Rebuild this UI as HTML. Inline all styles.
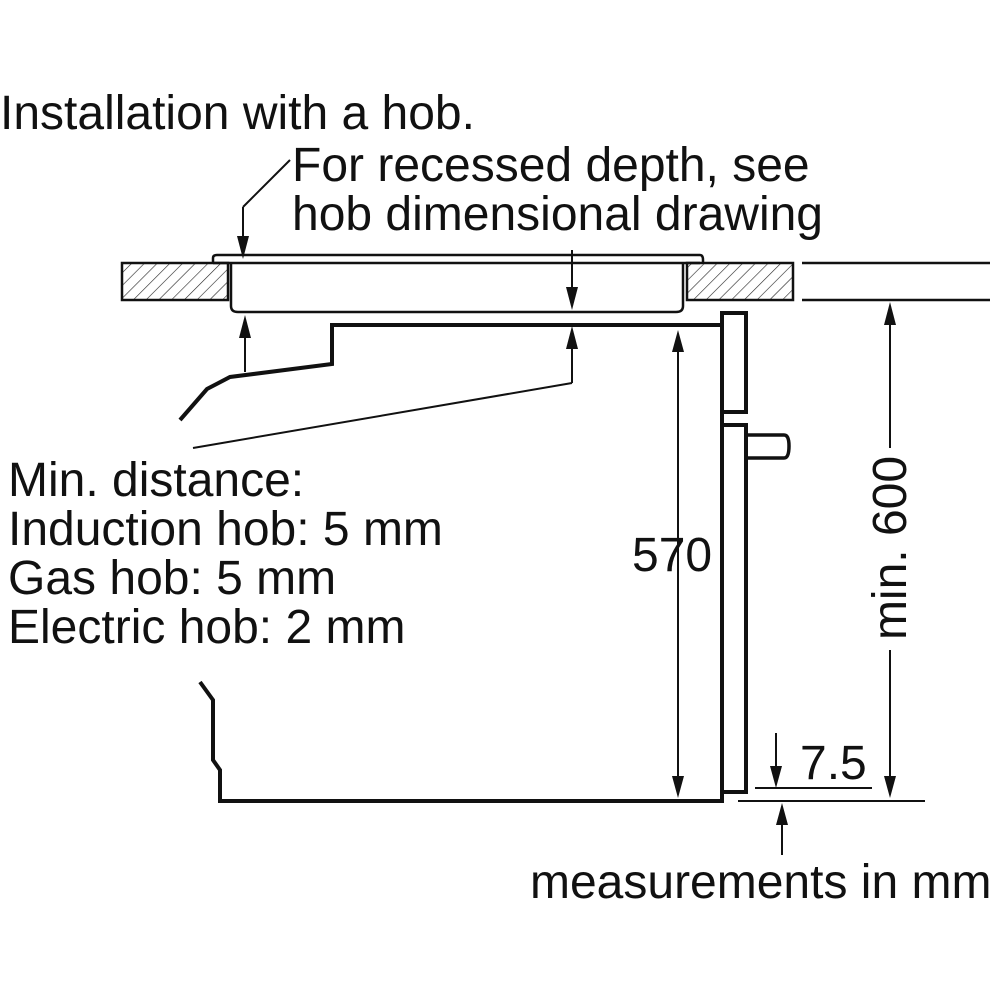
<!DOCTYPE html>
<html><head><style>
html,body{margin:0;padding:0;background:#fff;}
svg text{font-family:"Liberation Sans",sans-serif;fill:#111;}
</style></head><body>
<svg width="1000" height="1000" viewBox="0 0 1000 1000" xmlns="http://www.w3.org/2000/svg">
<defs>
<pattern id="h" width="9" height="9" patternUnits="userSpaceOnUse" patternTransform="rotate(45)">
<line x1="0" y1="0" x2="0" y2="9" stroke="#222" stroke-width="1.2"/>
</pattern>
</defs>
<g font-size="48">
<text x="0" y="129">Installation with a hob.</text>
<text x="292" y="181">For recessed depth, see</text>
<text x="292" y="230">hob dimensional drawing</text>
<text x="8" y="496">Min. distance:</text>
<text x="8" y="545">Induction hob: 5 mm</text>
<text x="8" y="594">Gas hob: 5 mm</text>
<text x="8" y="643">Electric hob: 2 mm</text>
<text x="632" y="571">570</text>
<text x="800" y="779">7.5</text>
<text x="530" y="898">measurements in mm</text>
<text transform="translate(906,548) rotate(-90)" text-anchor="middle">min. 600</text>
</g>
<g stroke="#111" fill="none" stroke-width="2.5">
<rect x="122" y="263" width="106" height="37" fill="url(#h)"/>
<rect x="687" y="263" width="106" height="37" fill="url(#h)"/>
<line x1="802" y1="263" x2="990" y2="263"/>
<line x1="802" y1="300" x2="990" y2="300"/>
<path d="M213,263 L213,258 Q213,255 217,255 L700,255 Q703,255 703,260 L703,263"/>
<line x1="213" y1="263" x2="700" y2="263"/>
<path d="M231,263 L231,306 Q231,312 238,312 L676,312 Q683,312 683,306 L683,263"/>
<line x1="290" y1="160" x2="243" y2="207" stroke-width="2"/>
<line x1="243" y1="207" x2="243" y2="240" stroke-width="2"/>
<line x1="245" y1="372" x2="245" y2="330" stroke-width="2"/>
<line x1="572" y1="250" x2="572" y2="290" stroke-width="2"/>
<polyline points="193,448 572,383" stroke-width="2"/>
<line x1="572" y1="383" x2="572" y2="340" stroke-width="2"/>
<polyline stroke-width="4" points="722,325 332,325 332,364 230,377 207,389 180,420"/>
<polyline stroke-width="4" points="200,682 213,700 213,760 220,770 220,801 722,801 722,792 746,792 746,425 722,425 722,412 746,412 746,313 722,313 722,792"/>
<path stroke-width="3.5" d="M747,435 L784,435 Q789,435 789,446 Q789,458 784,458 L747,458"/>
<line x1="678" y1="340" x2="678" y2="780" stroke-width="2"/>
<line x1="890" y1="315" x2="890" y2="448" stroke-width="2"/>
<line x1="890" y1="650" x2="890" y2="780" stroke-width="2"/>
<line x1="755" y1="788" x2="872" y2="788" stroke-width="2"/>
<line x1="738" y1="801" x2="925" y2="801" stroke-width="2"/>
<line x1="776" y1="733" x2="776" y2="770" stroke-width="2"/>
<line x1="782" y1="855" x2="782" y2="820" stroke-width="2"/>
</g>
<g fill="#111">
<!-- down arrows: tip at y -->
<polygon points="237,236 249,236 243,259"/>
<polygon points="566,287 578,287 572,310"/>
<polygon points="672,776 684,776 678,798"/>
<polygon points="884,776 896,776 890,798"/>
<polygon points="770,766 782,766 776,788"/>
<!-- up arrows -->
<polygon points="239,338 251,338 245,315"/>
<polygon points="566,349 578,349 572,326"/>
<polygon points="672,352 684,352 678,330"/>
<polygon points="884,325 896,325 890,302"/>
<polygon points="776,825 788,825 782,803"/>
</g>
</svg>
</body></html>
